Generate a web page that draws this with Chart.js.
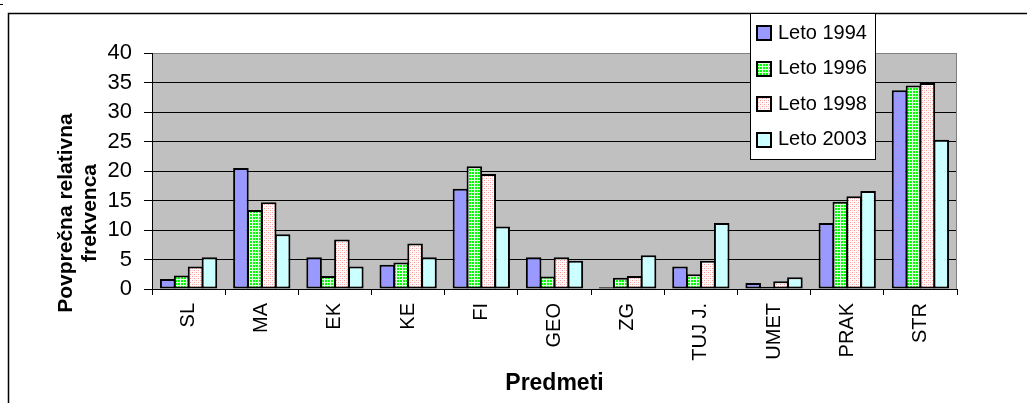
<!DOCTYPE html>
<html>
<head>
<meta charset="utf-8">
<script src="https://cdn.jsdelivr.net/npm/chart.js@4/dist/chart.umd.min.js"></script>
<style>
  html, body { margin: 0; padding: 0; background: #fff; }
  #wrap { width: 1027px; height: 403px; position: relative; }
</style>
</head>
<body>
<div id="wrap"><canvas id="c" width="1027" height="403"></canvas></div>
<script>
const categories = ['SL', 'MA', 'EK', 'KE', 'FI', 'GEO', 'ZG', 'TUJ J.', 'UMET', 'PRAK', 'STR'];
const leto1994 = [1.7, 20.5, 5.4, 4.1, 17.0, 5.4, 0.3, 3.8, 1.0, 11.2, 33.7];
const leto1996 = [2.3, 13.4, 2.2, 4.5, 20.8, 2.1, 1.9, 2.5, 0.4, 14.8, 34.5];
const leto1998 = [3.8, 14.7, 8.4, 7.7, 19.5, 5.4, 2.2, 4.8, 1.3, 15.7, 34.9];
const leto2003 = [5.4, 9.3, 3.8, 5.4, 10.6, 4.8, 5.7, 11.2, 2.0, 16.6, 25.3];
const seriesLabels = ['Leto 1994', 'Leto 1996', 'Leto 1998', 'Leto 2003'];
const yTicks = { min: 0, max: 40, step: 5 };
const yTitle = ['Povprečna relativna', 'frekvenca'];
const xTitle = 'Predmeti';

const FONT = "'Liberation Sans', Arial, sans-serif";

function makePattern(size, base, dots) {
  const c = document.createElement('canvas');
  c.width = size; c.height = size;
  const g = c.getContext('2d');
  g.fillStyle = base; g.fillRect(0, 0, size, size);
  dots.forEach(([x, y, col]) => { g.fillStyle = col; g.fillRect(x, y, 1, 1); });
  return g.createPattern(c, 'repeat');
}
// green grid pattern
const greenDots = [];
for (let i = 0; i < 3; i++) { greenDots.push([i, 0, '#DDFFDD']); greenDots.push([0, i, '#DDFFDD']); }
const greenPattern = makePattern(3, '#00FF00', greenDots);
// pink dotted pattern
const pinkPattern = makePattern(4, '#FFFFFF', [[0, 0, '#FF9999'], [2, 2, '#FF9999'], [2, 0, '#FFD8D8'], [0, 2, '#FFD8D8']]);

const fills = ['#9999FF', greenPattern, pinkPattern, '#CCFFFF'];
const seriesData = [leto1994, leto1996, leto1998, leto2003];

const datasets = seriesData.map((d, i) => ({
  label: seriesLabels[i],
  data: d,
  backgroundColor: fills[i],
  borderColor: '#000',
  borderWidth: 2,
  borderSkipped: false,
  categoryPercentage: 0.76,
  barPercentage: 1.12
}));

const deco = {
  id: 'deco',
  beforeDraw(chart) {
    const { ctx, chartArea: a } = chart;
    ctx.save();
    ctx.fillStyle = '#fff';
    ctx.fillRect(0, 0, chart.width, chart.height);
    ctx.fillStyle = '#C0C0C0';
    ctx.fillRect(a.left, a.top, a.right - a.left, a.bottom - a.top);
    ctx.restore();
  },
  afterDraw(chart) {
    const { ctx, chartArea: a } = chart;
    ctx.save();
    // plot right border
    ctx.strokeStyle = '#808080';
    ctx.lineWidth = 1;
    ctx.beginPath();
    ctx.moveTo(Math.round(a.right) - 0.5, a.top);
    ctx.lineTo(Math.round(a.right) - 0.5, a.bottom);
    ctx.stroke();
    // outer frame
    ctx.strokeStyle = '#000';
    ctx.lineWidth = 1.5;
    ctx.beginPath();
    ctx.moveTo(8.5, chart.height + 2);
    ctx.lineTo(8.5, 13.5);
    ctx.lineTo(chart.width + 2, 13.5);
    ctx.stroke();
    // tiny mark top-left
    ctx.lineWidth = 1;
    ctx.beginPath(); ctx.moveTo(0, 4.5); ctx.lineTo(3, 4.5); ctx.stroke();

    // legend
    const lx = 750, ly = 13, lw = 125, lh = 146;
    ctx.fillStyle = '#fff';
    ctx.fillRect(lx, ly, lw, lh);
    ctx.strokeStyle = '#000';
    ctx.lineWidth = 1;
    ctx.strokeRect(lx + 0.5, ly + 0.5, lw, lh);
    ctx.font = '20px ' + FONT;
    ctx.textBaseline = 'middle';
    ctx.textAlign = 'left';
    chart.data.datasets.forEach((ds, i) => {
      const cy = 32 + i * 35.6;
      ctx.fillStyle = ds.backgroundColor;
      ctx.fillRect(757, Math.round(cy - 6), 14, 14);
      ctx.lineWidth = 2;
      ctx.strokeStyle = '#000';
      ctx.strokeRect(757, Math.round(cy - 6), 14, 14);
      ctx.fillStyle = '#000';
      ctx.fillText(ds.label, 778, cy + 1);
    });

    // y axis title
    ctx.fillStyle = '#000';
    ctx.font = 'bold 21px ' + FONT;
    ctx.textAlign = 'center';
    ctx.textBaseline = 'alphabetic';
    const yx = [72, 96];
    yTitle.forEach((t, i) => {
      ctx.save();
      ctx.translate(yx[i], 213);
      ctx.rotate(-Math.PI / 2);
      ctx.fillText(t, 0, 0);
      ctx.restore();
    });
    // x axis title
    ctx.font = 'bold 23px ' + FONT;
    ctx.fillText(xTitle, (a.left + a.right) / 2, 390);
    ctx.restore();
  }
};

new Chart(document.getElementById('c'), {
  type: 'bar',
  data: { labels: categories, datasets },
  plugins: [deco],
  options: {
    responsive: false,
    devicePixelRatio: 1,
    animation: false,
    layout: { padding: { left: 0, top: 53, right: 70, bottom: 0 } },
    plugins: { legend: { display: false }, tooltip: { enabled: false } },
    scales: {
      x: {
        afterFit(s) { s.height = 114; },
        grid: { drawOnChartArea: false, drawTicks: true, tickLength: 6, color: '#000', offset: true },
        border: { display: true, color: '#000', width: 1 },
        ticks: {
          minRotation: 90, maxRotation: 90, autoSkip: false, padding: 8,
          color: '#000', font: { family: FONT, size: 20 }
        }
      },
      y: {
        min: yTicks.min, max: yTicks.max,
        afterFit(s) { s.width = 152; },
        grid: {
          color: (c) => (c.tick && c.tick.value === yTicks.max ? '#808080' : '#000'),
          tickColor: '#000', tickLength: 8, drawTicks: true, lineWidth: 1
        },
        border: { display: true, color: '#000', width: 1 },
        ticks: {
          stepSize: yTicks.step, padding: 12, color: '#000',
          font: { family: FONT, size: 22 }
        }
      }
    }
  }
});
</script>
</body>
</html>
